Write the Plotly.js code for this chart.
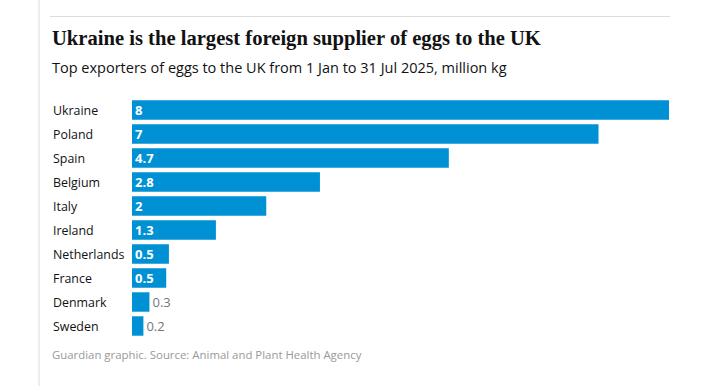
<!DOCTYPE html>
<html>
<head>
<meta charset="utf-8">
<script src="https://cdn.plot.ly/plotly-3.0.1.min.js"></script>
<style>
html,body{margin:0;padding:0;background:#fff;}
#chart{width:710px;height:386px;}
</style>
</head>
<body>
<div id="chart"></div>
<script>
// Data (million kg), 1 Jan – 31 Jul 2025
const countries = ["Ukraine","Poland","Spain","Belgium","Italy","Ireland","Netherlands","France","Denmark","Sweden"];
const exportsMkg = [8, 6.95, 4.72, 2.8, 2.0, 1.25, 0.55, 0.51, 0.26, 0.17];
const valueLabels = ["8","7","4.7","2.8","2","1.3","0.5","0.5","0.3","0.2"];

const titleText = "Ukraine is the largest foreign supplier of eggs to the UK";
const subtitleText = "Top exporters of eggs to the UK from 1 Jan to 31 Jul 2025, million kg";
const sourceText = "Guardian graphic. Source: Animal and Plant Health Agency";

const blue = "#0091d5";
const sans = "'Open Sans', 'Noto Sans', sans-serif";

const positions = exportsMkg.map(v => v >= 0.4 ? "inside" : "outside");

const trace = {
  type: "bar",
  orientation: "h",
  y: countries,
  x: exportsMkg,
  text: valueLabels,
  textposition: positions,
  insidetextanchor: "start",
  textangle: 0,
  constraintext: "none",
  cliponaxis: false,
  outsidetextfont: {family: sans, size: 13, color: "#767676", weight: 400},
  insidetextfont: {family: sans, size: 13, color: "#ffffff", weight: 700},
  marker: {color: blue, line: {width: 0}},
  hoverinfo: "skip"
};

const W = 710, H = 386;
const L = 132, R = 41;
const plotW = W - L - R;

const annotations = countries.map(c => ({
  xref: "paper", yref: "y",
  x: (51 - L) / plotW, y: c,
  text: c, showarrow: false,
  xanchor: "left", yanchor: "middle",
  font: {family: sans, size: 12.4, color: "#121212"}
}));

annotations.push({
  xref: "paper", yref: "paper",
  x: (50 - L) / plotW, y: 1 + (98 - 38.5) / 240,
  text: "<b>" + titleText + "</b>", showarrow: false,
  xanchor: "left", yanchor: "middle",
  font: {family: "'Liberation Serif', 'DejaVu Serif', serif", size: 20.6, color: "#121212"}
});
annotations.push({
  xref: "paper", yref: "paper",
  x: (50 - L) / plotW, y: 1 + (98 - 67.5) / 240,
  text: subtitleText, showarrow: false,
  xanchor: "left", yanchor: "middle",
  font: {family: sans, size: 14.5, color: "#121212"}
});
annotations.push({
  xref: "paper", yref: "paper",
  x: (50 - L) / plotW, y: -(354 - 338) / 240,
  text: sourceText, showarrow: false,
  xanchor: "left", yanchor: "middle",
  font: {family: sans, size: 11.4, color: "#999999"}
});

const layout = {
  width: W, height: H,
  margin: {l: L, r: R, t: 98, b: 48, pad: 0},
  paper_bgcolor: "#ffffff",
  plot_bgcolor: "#ffffff",
  showlegend: false,
  bargap: 0.19,
  xaxis: {range: [0, 8], visible: false, fixedrange: true},
  yaxis: {autorange: "reversed", showticklabels: false, showgrid: false, zeroline: false, showline: false, ticks: "", fixedrange: true},
  annotations: annotations,
  shapes: [
    {type: "line", xref: "paper", yref: "paper",
     x0: (50 - L) / plotW, x1: (670 - L) / plotW,
     y0: 1 + (98 - 16.5) / 240, y1: 1 + (98 - 16.5) / 240,
     line: {color: "#dcdcdc", width: 1}},
    {type: "line", xref: "paper", yref: "paper",
     x0: (39 - L) / plotW, x1: (39 - L) / plotW,
     y0: -(386 - 338) / 240, y1: 1 + 98 / 240,
     line: {color: "#dcdcdc", width: 1}}
  ]
};

Plotly.newPlot("chart", [trace], layout, {displayModeBar: false, staticPlot: true});
</script>
</body>
</html>
